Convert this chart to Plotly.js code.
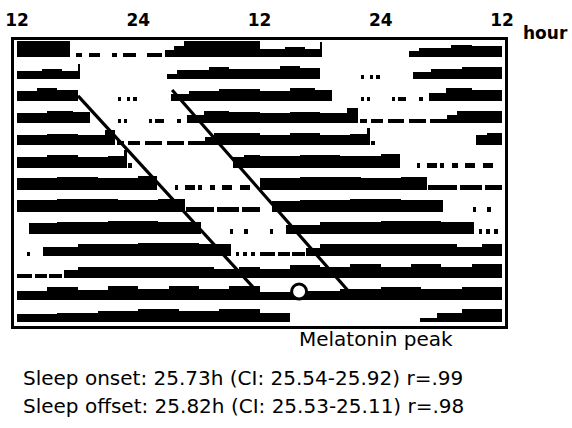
<!DOCTYPE html>
<html>
<head>
<meta charset="utf-8">
<script src="https://cdn.plot.ly/plotly-3.0.1.min.js"></script>
<style>html,body{margin:0;padding:0;background:#fff;}#chart{width:572px;height:428px;}</style>
</head>
<body>
<div id="chart"></div>
<script>
// Hours since 12:00 (double plotted: 0-24 = day n, 24-48 = day n+1)
const hourTicks = [0, 12, 24, 36, 48];
const hourLabels = ['12', '24', '12', '24', '12'];

// Activity per day: [startHour, endHour, activityLevel]
const day01 = [[0,5.2,0.72],[5.8,6.4,0.2],[7.1,8.2,0.2],[9.4,9.9,0.2],[10.5,11.8,0.2],[12.9,14.3,0.2],[14.6,15.5,0.3],[15.5,16.5,0.5],[16.5,24,0.72]];
const day02 = [[0,2.5,0.38],[2.5,4.5,0.45],[4.5,6.0,0.38],[6.0,6.2,0.68],[14.8,15.8,0.25],[15.8,19,0.42],[19,21,0.55],[21,24,0.48]];
const day03 = [[0,2,0.48],[2,4,0.58],[4,6.0,0.52],[10.0,10.3,0.2],[10.9,11.2,0.2],[11.5,11.9,0.2],[15.2,17,0.32],[17,20,0.48],[20,24,0.55]];
const day04 = [[0,3,0.48],[3,5.5,0.58],[5.5,7.2,0.52],[10.0,10.3,0.2],[10.6,10.9,0.2],[13.1,13.4,0.2],[13.7,14.5,0.2],[15.8,16.2,0.2],[16.8,18.5,0.38],[18.5,21,0.58],[21,24,0.52]];
const day05 = [[0,3,0.48],[3,6,0.52],[6,8.7,0.48],[8.7,9.7,0.68],[9.9,10.6,0.2],[11.0,12.2,0.2],[12.7,14.3,0.2],[14.8,16.5,0.2],[16.9,18.6,0.2],[18.6,19.5,0.38],[19.5,24,0.58]];
const day06 = [[0,3,0.48],[3,6,0.55],[6,9,0.48],[9,10.6,0.52],[10.6,10.9,0.78],[11.0,11.4,0.2],[21.4,22.5,0.48],[22.5,24,0.58]];
const day07 = [[0,4,0.52],[4,8,0.58],[8,12,0.52],[12,13.9,0.6],[15.6,15.9,0.2],[16.6,17.6,0.2],[17.9,18.3,0.2],[19.1,19.6,0.2],[20.3,21.3,0.2],[22.1,23.1,0.2]];
const day08 = [[0,4,0.52],[4,10,0.58],[10,14,0.52],[14,16.6,0.58],[16.7,19.5,0.22],[19.8,22,0.22],[22.3,24,0.22]];
const day09 = [[1.2,4,0.48],[4,9,0.52],[9,14,0.58],[14,18.2,0.52],[21.1,21.4,0.2],[22.5,22.9,0.2]];
const day10 = [[1.0,1.3,0.2],[2.6,6,0.42],[6,12,0.52],[12,18,0.58],[18,21.2,0.52],[21.7,22.0,0.2],[22.4,22.8,0.2],[23.2,23.6,0.2]];
const day11 = [[0,1.5,0.2],[1.8,3.0,0.2],[3.2,4.5,0.2],[4.6,6,0.38],[6,12,0.52],[12,19.5,0.52],[19.5,22,0.42],[22,24,0.52]];
const day12 = [[0,3,0.42],[3,6,0.58],[6,9,0.48],[9,12,0.62],[12,15,0.52],[15,18,0.62],[18,21,0.52],[21,24,0.62]];
const day13 = [[0,4,0.38],[4,8,0.42],[8,12,0.52],[12,16,0.58],[16,20,0.52],[20,24,0.58]];
const day14 = [[0,3.0,0.42],[15.9,17.6,0.2],[17.6,20,0.42],[20,24,0.58]];
const days = [day01, day02, day03, day04, day05, day06, day07, day08, day09, day10, day11, day12, day13, day14];

// Regression lines (hour, row) and melatonin peak
const onsetHours = [6.04, 24.26];
const onsetRows = [2.76, 11.86];
const offsetHours = [15.35, 32.97];
const offsetRows = [2.49, 11.68];
const melatoninHours = [27.92];
const melatoninRows = [11.61];

const axisUnit = 'hour';
const peakLabel = 'Melatonin peak';
const statLines = [
  'Sleep onset: 25.73h (CI: 25.54-25.92) r=.99',
  'Sleep offset: 25.82h (CI: 25.53-25.11) r=.98'
];

const bx = [], bw = [], bb = [], by = [];
for (let r = 1; r <= days.length - 1; r++) {
  [[days[r - 1], 0], [days[r], 24]].forEach(([segs, off]) => {
    segs.forEach(([s, e, h]) => {
      bx.push(off + (s + e) / 2);
      bw.push(e - s);
      bb.push(r);
      by.push(-h);
    });
  });
}

const FONT = 'DejaVu Sans, Arial, sans-serif';
const traces = [
  {type: 'bar', x: bx, y: by, base: bb, width: bw, marker: {color: '#000', line: {width: 0}}, hoverinfo: 'skip', showlegend: false},
  {type: 'scatter', mode: 'lines', x: onsetHours, y: onsetRows, line: {color: '#000', width: 3.2}, hoverinfo: 'skip', showlegend: false},
  {type: 'scatter', mode: 'lines', x: offsetHours, y: offsetRows, line: {color: '#000', width: 3.2}, hoverinfo: 'skip', showlegend: false},
  {type: 'scatter', mode: 'markers', x: melatoninHours, y: melatoninRows, marker: {size: 15, color: '#fff', line: {color: '#000', width: 3}}, hoverinfo: 'skip', showlegend: false}
];

const layout = {
  width: 572, height: 428,
  margin: {l: 14, r: 67, t: 40, b: 102},
  paper_bgcolor: '#fff', plot_bgcolor: '#fff',
  barmode: 'overlay', bargap: 0,
  font: {family: FONT, color: '#000'},
  xaxis: {range: [-0.3, 48.3], side: 'top', tickvals: hourTicks, ticktext: hourLabels,
    showgrid: false, zeroline: false, showline: true, mirror: true, linewidth: 3, linecolor: '#000',
    ticks: '', tickfont: {family: FONT, size: 17, color: '#000', weight: 'bold'}, ticklabelstandoff: 4, fixedrange: true},
  yaxis: {range: [13.17, 0.23], showgrid: false, zeroline: false, showticklabels: false,
    showline: true, mirror: true, linewidth: 3, linecolor: '#000', ticks: '', fixedrange: true},
  annotations: [
    {text: axisUnit, xref: 'paper', yref: 'paper', x: 1.0835, y: 1.0245, xanchor: 'center', yanchor: 'middle', showarrow: false, font: {family: FONT, size: 17, color: '#000', weight: 'bold'}},
    {text: peakLabel, xref: 'paper', yref: 'paper', x: 0.576, y: -0.0455, xanchor: 'left', yanchor: 'middle', showarrow: false, font: {family: FONT, size: 20, color: '#000'}},
    {text: statLines[0], xref: 'paper', yref: 'paper', x: 0.0143, y: -0.1818, xanchor: 'left', yanchor: 'middle', showarrow: false, font: {family: FONT, size: 20, color: '#000'}},
    {text: statLines[1], xref: 'paper', yref: 'paper', x: 0.0143, y: -0.2797, xanchor: 'left', yanchor: 'middle', showarrow: false, font: {family: FONT, size: 20, color: '#000'}}
  ]
};

Plotly.newPlot('chart', traces, layout, {staticPlot: true, displayModeBar: false});
</script>
</body>
</html>
